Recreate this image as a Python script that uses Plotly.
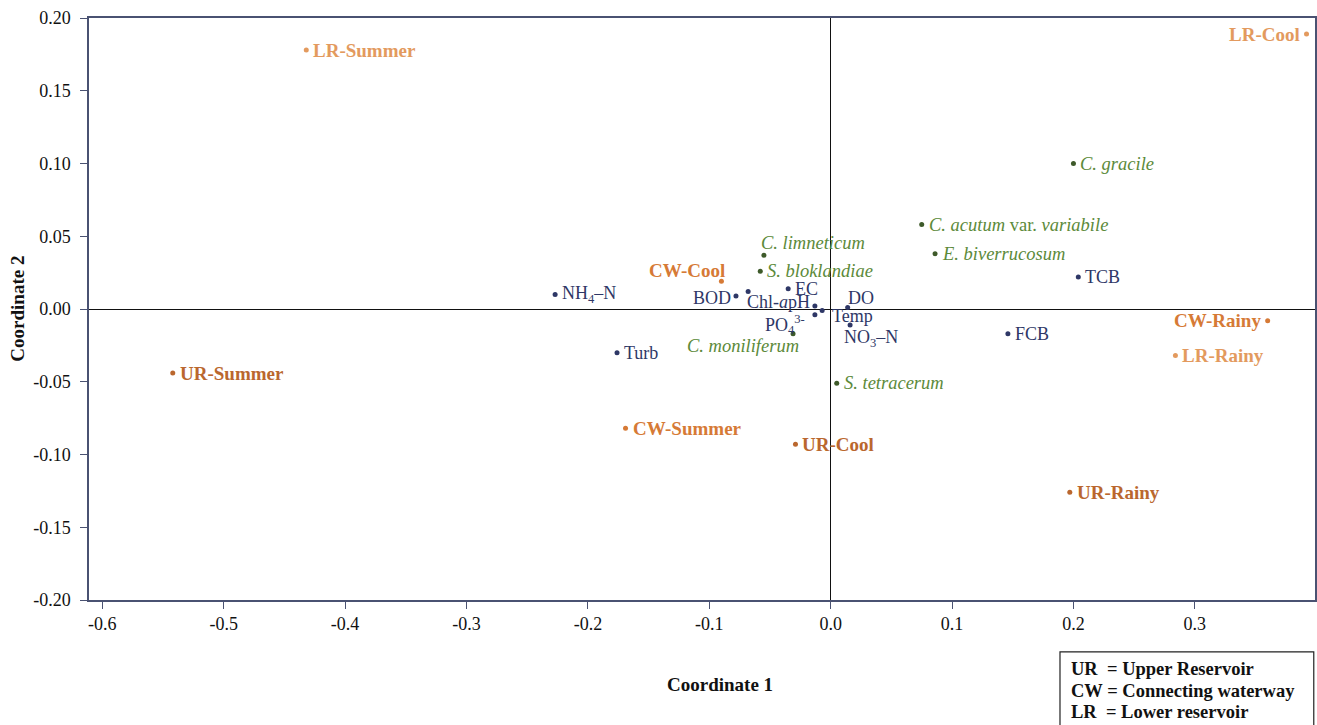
import plotly.graph_objects as go

# ---- data ----
site_labels = ["LR-Summer", "LR-Cool", "LR-Rainy",
               "CW-Cool", "CW-Summer", "CW-Rainy",
               "UR-Summer", "UR-Cool", "UR-Rainy"]
site_x = [-0.432, 0.392, 0.284, -0.090, -0.169, 0.360, -0.542, -0.029, 0.197]
site_y = [0.178, 0.189, -0.032, 0.019, -0.082, -0.008, -0.044, -0.093, -0.126]
site_group = ["LR", "LR", "LR", "CW", "CW", "CW", "UR", "UR", "UR"]

species_labels = ["<i>C. gracile</i>", "<i>C. acutum</i> var. <i>variabile</i>",
                  "<i>E. biverrucosum</i>", "<i>C. limneticum</i>",
                  "<i>S. bloklandiae</i>", "<i>C. moniliferum</i>",
                  "<i>S. tetracerum</i>"]
species_x = [0.200, 0.075, 0.086, -0.055, -0.058, -0.031, 0.005]
species_y = [0.100, 0.058, 0.038, 0.037, 0.026, -0.017, -0.051]

env_labels = ["NH<sub>4</sub>–N", "Turb", "TCB", "FCB", "EC", "BOD",
              "Chl-<i>a</i>", "pH", "DO", "Temp",
              "PO<sub>4</sub><sup>3-</sup>", "NO<sub>3</sub>–N"]
env_x = [-0.227, -0.176, 0.204, 0.146, -0.035, -0.078,
         -0.068, -0.013, 0.014, -0.007, -0.013, 0.016]
env_y = [0.010, -0.030, 0.022, -0.017, 0.014, 0.009,
         0.012, 0.002, 0.001, -0.001, -0.004, -0.011]

x_tickvals = [-0.6, -0.5, -0.4, -0.3, -0.2, -0.1, 0.0, 0.1, 0.2, 0.3]
x_ticktext = ["-0.6", "-0.5", "-0.4", "-0.3", "-0.2", "-0.1", "0.0", "0.1", "0.2", "0.3"]
y_tickvals = [-0.20, -0.15, -0.10, -0.05, 0.00, 0.05, 0.10, 0.15, 0.20]
y_ticktext = ["-0.20", "-0.15", "-0.10", "-0.05", "0.00", "0.05", "0.10", "0.15", "0.20"]

legend_lines = ["UR\u00a0\u00a0= Upper Reservoir",
                "CW = Connecting waterway",
                "LR\u00a0\u00a0= Lower reservoir"]

# ---- label placement (style: anchor side, pixel shift x, pixel shift y) ----
R = ("left", 5, 0)
L = ("right", -5, 0)
site_place = [R, L, R, ("right", 6, 11), R, L, R, R, R]
species_place = [R, R, R, ("left", -5, 12), R, ("right", 8, -12), R]
env_place = [R, R, R, R, R, ("right", -3, -2),
             ("left", -3, -10), ("right", -3, 4), ("left", -2, 10),
             ("left", 8, -6), ("right", -8, -10), ("left", -8, -13)]

# ---- style ----
FONT = "Liberation Serif, Times New Roman, serif"
group_colors = {"LR": "#E39A5E", "CW": "#D67A36", "UR": "#BA672E"}
species_text = "#5C8A3A"
species_dot = "#3E5A2A"
env_color = "#2E3766"
frame = "#4A5272"

fig = go.Figure()


def add_labels(xs, ys, texts, places, colors, size):
    for x, y, t, p, c in zip(xs, ys, texts, places, colors):
        fig.add_annotation(x=x, y=y, xref="x", yref="y", text=t,
                           showarrow=False, xanchor=p[0], yanchor="middle",
                           xshift=p[1], yshift=p[2],
                           font=dict(family=FONT, size=size, color=c))


for g in ["LR", "CW", "UR"]:
    idx = [i for i, s in enumerate(site_group) if s == g]
    fig.add_trace(go.Scatter(
        x=[site_x[i] for i in idx], y=[site_y[i] for i in idx],
        mode="markers", marker=dict(size=5, color=group_colors[g]),
        showlegend=False, cliponaxis=False, hoverinfo="skip"))

fig.add_trace(go.Scatter(
    x=species_x, y=species_y, mode="markers",
    marker=dict(size=5, color=species_dot),
    showlegend=False, cliponaxis=False, hoverinfo="skip"))

fig.add_trace(go.Scatter(
    x=env_x, y=env_y, mode="markers",
    marker=dict(size=5, color=env_color),
    showlegend=False, cliponaxis=False, hoverinfo="skip"))

add_labels(site_x, site_y, ["<b>" + s + "</b>" for s in site_labels], site_place,
           [group_colors[g] for g in site_group], 19)
add_labels(species_x, species_y, species_labels, species_place,
           [species_text] * len(species_labels), 18.5)
add_labels(env_x, env_y, env_labels, env_place,
           [env_color] * len(env_labels), 18)

axis_common = dict(showgrid=False, zeroline=True, zerolinecolor="#111111",
                   zerolinewidth=1, showline=True, mirror=True,
                   linecolor=frame, linewidth=1.5, ticks="outside",
                   ticklen=7, tickcolor=frame, automargin=False,
                   tickfont=dict(family=FONT, size=18, color="#111111"))

fig.update_xaxes(range=[-0.611, 0.399], tickvals=x_tickvals,
                 ticktext=x_ticktext, **axis_common)
fig.update_yaxes(range=[-0.20, 0.20], tickvals=y_tickvals,
                 ticktext=y_ticktext, ticklabelstandoff=6, **axis_common)

fig.add_annotation(text="<b>Coordinate 1</b>", xref="paper", yref="paper",
                   x=0.515, y=-0.146, showarrow=False,
                   xanchor="center", yanchor="middle",
                   font=dict(family=FONT, size=19, color="#111111"))
fig.add_annotation(text="<b>Coordinate 2</b>", xref="paper", yref="paper",
                   x=-0.059, y=0.50, showarrow=False, textangle=-90,
                   xanchor="center", yanchor="middle",
                   font=dict(family=FONT, size=19, color="#111111"))

# legend box
fig.add_shape(type="rect", xref="paper", yref="paper",
              x0=0.792, x1=0.999, y0=-0.245, y1=-0.0893,
              line=dict(color="#222222", width=1.2), fillcolor="white")
legend_y = [-0.118, -0.157, -0.193]
for line, yy in zip(legend_lines, legend_y):
    fig.add_annotation(text="<b>" + line + "</b>", xref="paper", yref="paper",
                       x=0.799, y=yy, xanchor="left", yanchor="middle",
                       showarrow=False,
                       font=dict(family=FONT, size=18.5, color="#111111"))

fig.update_layout(width=1317, height=725, plot_bgcolor="white",
                  paper_bgcolor="white",
                  margin=dict(l=89, r=2, t=18, b=125, autoexpand=False))

fig.write_html("out.html", config={"responsive": False, "displayModeBar": False},
               post_script="document.body.style.margin='0';"
                           "document.body.style.overflow='hidden';")
